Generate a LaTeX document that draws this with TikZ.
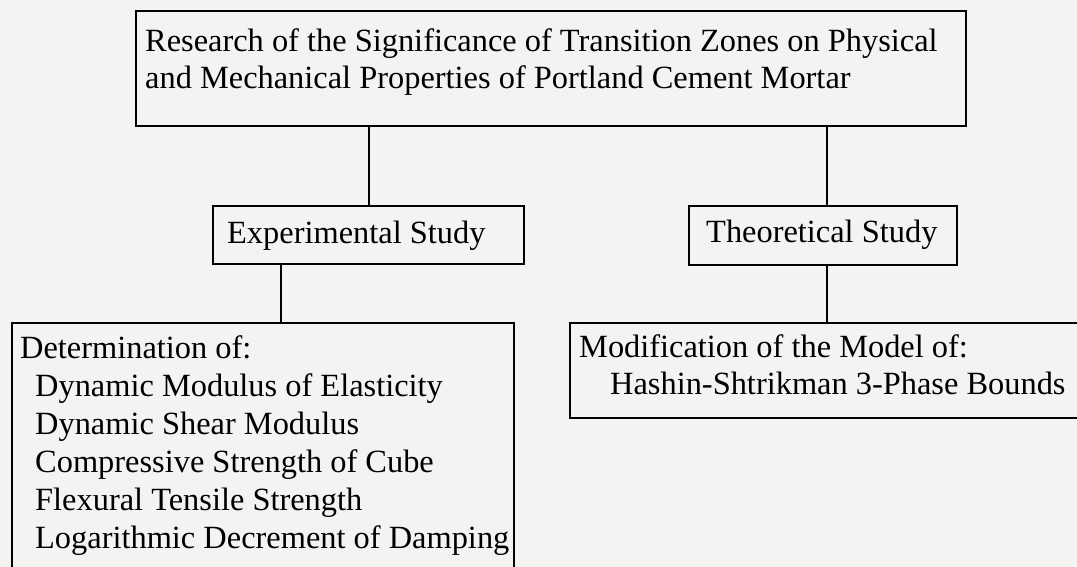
\documentclass[tikz,border=0pt]{standalone}
\usepackage{fontspec}
\setmainfont{Liberation Serif}
\definecolor{bgc}{RGB}{243,243,241}
\begin{document}
\begin{tikzpicture}[x=1pt,y=-1pt,
  box/.style={draw=black, line width=2.2pt, rectangle, inner sep=0pt, anchor=north west},
  txt/.style={anchor=base west, inner sep=0pt, font=\fontsize{32.4}{37}\selectfont},
  txtb/.style={anchor=base west, inner sep=0pt, font=\fontsize{32.4}{38}\selectfont},
  conn/.style={draw=black, line width=2.2pt}]
\fill[bgc] (0,0) rectangle (1077,567);
\useasboundingbox (0,0) rectangle (1077,567);
\begin{scope}
\clip (0,0) rectangle (1077,567);
% boxes
\node[box, minimum width=830pt, minimum height=115pt] (top) at (135,10) {};
\node[box, minimum width=311pt, minimum height=58pt] (exp) at (212,205) {};
\node[box, minimum width=268pt, minimum height=59pt] (theo) at (688,205) {};
\node[box, minimum width=502pt, minimum height=300pt] (det) at (11,322) {};
\node[box, minimum width=600pt, minimum height=95pt] (mod) at (569,322) {};
% connectors
\draw[conn] (exp.north) -- (exp.north |- top.south);
\draw[conn] ([xshift=4pt]theo.north) -- ([xshift=4pt]theo.north |- top.south);
\draw[conn] ([xshift=-88pt]exp.south) -- ([xshift=-88pt]exp.south |- det.north);
\draw[conn] ([xshift=4pt]theo.south) -- ([xshift=4pt]theo.south |- mod.north);
% texts
\node[txt] (toptext) at (145,52) {\begin{tabular}[t]{@{}l@{}}Research of the Significance of Transition Zones on Physical\\and Mechanical Properties of Portland Cement Mortar\end{tabular}};
\node[txt] (exptext) at (227,243) {Experimental Study};
\node[txt] (theotext) at (706,242) {Theoretical Study};
\node[txtb] (dettext) at (20,358) {\begin{tabular}[t]{@{}l@{}}Determination of:\\
\hspace{15pt}Dynamic Modulus of Elasticity\\
\hspace{15pt}Dynamic Shear Modulus\\
\hspace{15pt}Compressive Strength of Cube\\
\hspace{15pt}Flexural Tensile Strength\\
\hspace{15pt}Logarithmic Decrement of Damping\end{tabular}};
\node[txt] (modtext) at (579,357) {\begin{tabular}[t]{@{}l@{}}Modification of the Model of:\\
\hspace{31pt}Hashin-Shtrikman 3-Phase Bounds\end{tabular}};
\end{scope}
\end{tikzpicture}
\end{document}
